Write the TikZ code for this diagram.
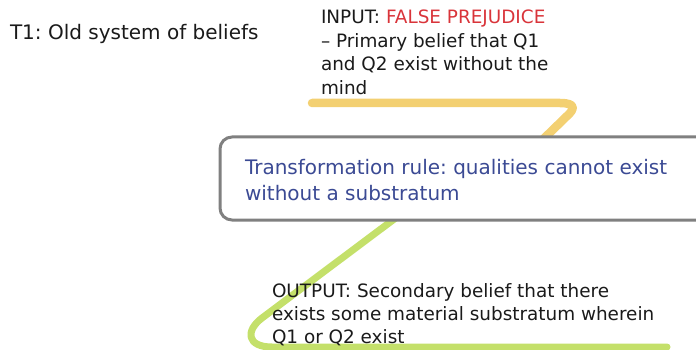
\documentclass[tikz,border=0pt]{standalone}
\usepackage{fontspec}
\setmainfont{DejaVu Sans}
\frenchspacing
\definecolor{txtblack}{HTML}{1A1A1A}
\definecolor{txtred}{HTML}{D9343A}
\definecolor{txtblue}{HTML}{3B4A94}
\definecolor{boxgray}{HTML}{808080}
\definecolor{flowyellow}{HTML}{F3D072}
\definecolor{flowgreen}{HTML}{C4E06A}
\begin{document}
\begin{tikzpicture}[x=1pt,y=-1pt,
  lbl/.style={anchor=base west,inner sep=0pt,outer sep=0pt,text=txtblack},
  bigfont/.style={font=\fontsize{20}{25}\selectfont\frenchspacing},
  smallfont/.style={font=\fontsize{18.4}{23.5}\selectfont\frenchspacing},
  rulebox/.style={draw=boxgray,line width=3pt,rounded corners=12pt,fill=white,
    inner sep=0pt,outer sep=0pt,minimum width=510pt,minimum height=83pt,anchor=north west},
  flowline/.style={line width=8.5pt,line cap=round,line join=round}]
\useasboundingbox (0,0) rectangle (696,350);
\clip (0,0) rectangle (696,350);
% flow lines (behind the box)
\coordinate (ystart) at (312,103);
\coordinate (yend) at (530,152);
\draw[flowline,flowyellow] (ystart) -- (560,103) .. controls (576,103) and (575,109) .. (567,116) -- (yend);
\coordinate (gstart) at (425,196);
\coordinate (gend) at (667,347);
\draw[flowline,flowgreen,line width=7pt] (gstart) -- (262,318) .. controls (245,331) and (247,347) .. (272,347) -- (gend);
% box
\node[rulebox] (box) at (220,137) {};
% texts
\node[lbl,bigfont] (t1) at (10,39.5) {T1: Old system of beliefs};
\node[lbl,smallfont] (input) at (321,24) {\begin{tabular}[t]{@{}l@{}}INPUT: \textcolor{txtred}{FALSE PREJUDICE}\\ – Primary belief that Q1\\ and Q2 exist without the\\ mind\end{tabular}};
\node[lbl,bigfont,text=txtblue] (rule) at (245,175) {\begin{tabular}[t]{@{}l@{}}Transformation rule: qualities cannot exist\\ without a substratum\end{tabular}};
\node[lbl,font=\fontsize{18.4}{23}\selectfont\frenchspacing] (output) at (272,297) {\begin{tabular}[t]{@{}l@{}}OUTPUT: Secondary belief that there\\ exists some material substratum wherein\\ Q1 or Q2 exist\end{tabular}};
\end{tikzpicture}
\end{document}
